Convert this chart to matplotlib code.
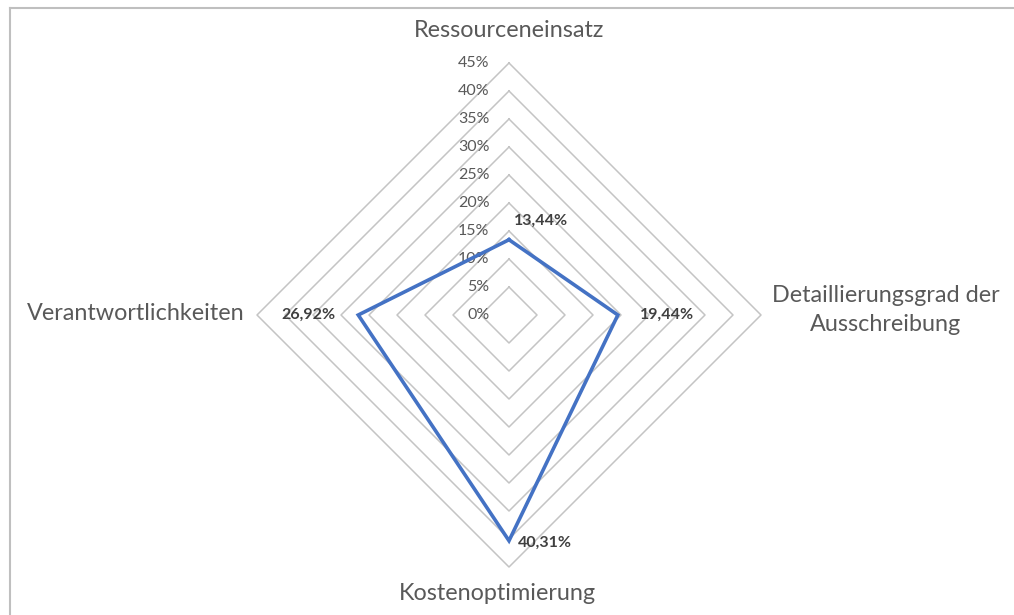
import matplotlib.pyplot as plt
import numpy as np
from matplotlib.lines import Line2D

# data
categories = ['Ressourceneinsatz', 'Detaillierungsgrad der\nAusschreibung',
              'Kostenoptimierung', 'Verantwortlichkeiten']
values = [13.44, 19.44, 40.31, 26.92]
value_labels = ['13,44%', '19,44%', '40,31%', '26,92%']
rings = [0, 5, 10, 15, 20, 25, 30, 35, 40, 45]
ring_labels = ['0%', '5%', '10%', '15%', '20%', '25%', '30%', '35%', '40%', '45%']

plt.rcParams['font.family'] = ['Lato', 'DejaVu Sans']
TXT = '#595959'
GRID = '#C4C4C4'
BLUE = '#4472C4'

# angles: top, right, bottom, left
ang = np.array([90, 0, -90, 180]) * np.pi / 180
dx, dy = np.cos(ang), np.sin(ang)

fig = plt.figure(figsize=(10.14, 6.15), dpi=100)
ax = fig.add_axes([0, 0, 1, 1])
sc = 5.6  # px per unit
ax.set_xlim(-509 / sc, (1014 - 509) / sc)
ax.set_ylim(-(615 - 315) / sc, 315 / sc)
ax.axis('off')

# grid diamonds
for r in rings[1:]:
    xs = list(r * dx) + [r * dx[0]]
    ys = list(r * dy) + [r * dy[0]]
    ax.plot(xs, ys, color=GRID, lw=1.1, zorder=1)

# ring labels
for r, lab in zip(rings, ring_labels):
    ax.text(-3.5, r, lab, ha='right', va='center', fontsize=11.5, color=TXT, zorder=3)

# data polygon
v = np.array(values)
px = list(v * dx) + [v[0] * dx[0]]
py = list(v * dy) + [v[0] * dy[0]]
ax.plot(px, py, color=BLUE, lw=2.6, zorder=4, solid_joinstyle='miter')

# data labels
lab_kw = dict(va='center', fontsize=11.5, fontweight='bold', color='#404040', zorder=5)
ax.text(0.8, v[0] + 3.4, value_labels[0], ha='left', **lab_kw)
ax.text(v[1] + 3.9, 0, value_labels[1], ha='left', **lab_kw)
ax.text(1.6, -v[2] - 0.4, value_labels[2], ha='left', **lab_kw)
ax.text(-v[3] - 4.1, 0, value_labels[3], ha='right', **lab_kw)

# category labels
cat_kw = dict(va='center', fontsize=16.8, color=TXT)
ax.text(0, 285 / sc, categories[0], ha='center', **cat_kw)
ax.text(377 / sc, 5 / sc, categories[1], ha='center', linespacing=1.45, **cat_kw)
ax.text(-2, -278 / sc, categories[2], ha='center', **cat_kw)
ax.text(-264 / sc, 2 / sc, categories[3], ha='right', **cat_kw)

# chart frame (only top and left edges visible)
fig.add_artist(Line2D([9.5 / 1014, 1], [1 - 8 / 615, 1 - 8 / 615], color='#BFBFBF', lw=1.5))
fig.add_artist(Line2D([9.5 / 1014, 9.5 / 1014], [0, 1 - 8 / 615], color='#BFBFBF', lw=1.5))

fig.savefig('out.png', dpi=100)
